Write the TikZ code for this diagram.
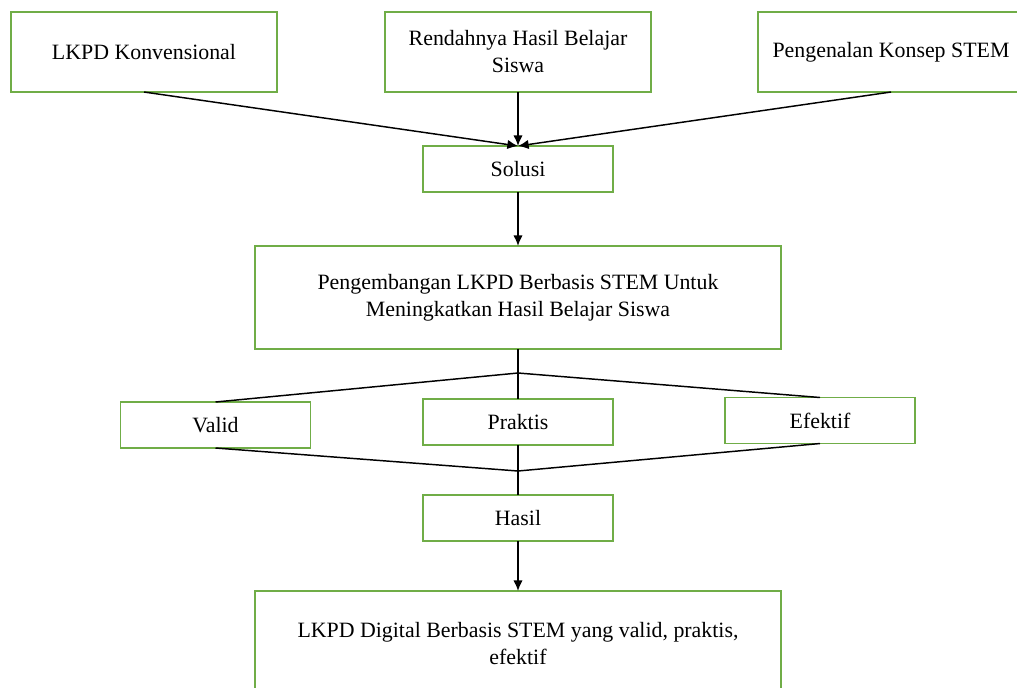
\documentclass[tikz,border=0pt]{standalone}
\usepackage{fontspec}
\setmainfont{Liberation Serif}
\usetikzlibrary{arrows.meta,positioning}
\definecolor{boxgreen}{HTML}{70AD47}
\tikzset{
	frame/.style={
		rectangle, draw=boxgreen, line width=1.1pt,
		align=center, inner sep=0pt, outer sep=0pt,
		font=\fontsize{16.4}{20.25}\selectfont,
	},
	wide/.style={frame, minimum width=199.5pt, minimum height=60pt},
	smallbox/.style={frame, minimum width=142.5pt, minimum height=34.5pt},
	bigbox/.style={frame, minimum width=394.5pt, minimum height=77.25pt},
	line/.style={
		draw, line width=1.1pt, -{Latex[length=8pt,width=7pt]},
	},
	link/.style={draw, line width=1.1pt},
}

\begin{document}
\begin{tikzpicture}[x=0.75pt,y=-0.75pt]
	\useasboundingbox (0,0) rectangle (1017,687);
	% Top row
	\node [wide] (konv) at (144,52) {LKPD Konvensional};
	\node [wide] (rendah) at (518,52) {Rendahnya Hasil Belajar\\ Siswa};
	\node [wide] (stem) at (891,52) {Pengenalan Konsep STEM};
	% Main chain
	\node [smallbox, below=40.5pt of rendah] (solusi) {Solusi};
	\node [bigbox, below=40.5pt of solusi] (kembang) {Pengembangan LKPD Berbasis STEM Untuk\\ Meningkatkan Hasil Belajar Siswa};
	\node [smallbox, below=37.5pt of kembang] (praktis) {Praktis};
	\node [smallbox] (valid) at (215.5,425) {Valid};
	\node [smallbox] (efektif) at (820,420.5) {Efektif};
	\node [smallbox, below=37.5pt of praktis] (hasil) {Hasil};
	\node [bigbox, minimum height=79.5pt, below=37.5pt of hasil] (akhir) {LKPD Digital Berbasis STEM yang valid, praktis,\\ efektif};
	% Split and merge points
	\coordinate [below=18pt of kembang.south] (pisah);
	\coordinate [below=19.5pt of praktis.south] (gabung);
	% Arrows into Solusi
	\draw [line] (konv.south) -- (solusi.north);
	\draw [line] (rendah.south) -- (solusi.north);
	\draw [line] (stem.south) -- (solusi.north);
	\draw [line] (solusi) -- (kembang);
	% Branches
	\draw [link] (kembang.south) -- (praktis.north);
	\draw [link] (valid.north) -- (pisah) -- (efektif.north);
	\draw [link] (valid.south) -- (gabung) -- (efektif.south);
	\draw [link] (praktis.south) -- (hasil.north);
	\draw [line] (hasil) -- (akhir);
\end{tikzpicture}
\end{document}
